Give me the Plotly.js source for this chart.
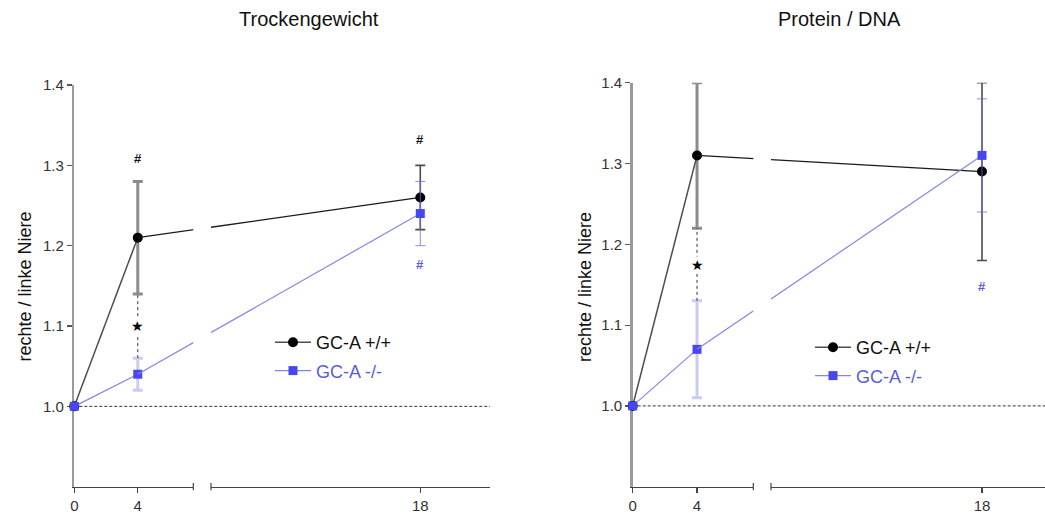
<!DOCTYPE html>
<html>
<head>
<meta charset="utf-8">
<script src="https://cdn.plot.ly/plotly-3.0.1.min.js"></script>
<style>html,body{margin:0;padding:0;background:#fff}#chart{width:1045px;height:513px}</style>
</head>
<body>
<div id="chart"></div>
<script>
// ---- data ----
const days = [0, 4, 18];
const tickDaysLeft = [0, 4];
const tickDaysRight = [18];
const yTicks = [1.0, 1.1, 1.2, 1.3, 1.4];

// Trockengewicht (rechte / linke Niere)
const tgWT = [1.00, 1.21, 1.26];
const tgWTsd = [0, 0.07, 0.04];
const tgKO = [1.00, 1.04, 1.24];
const tgKOsd = [0, 0.02, 0.04];
const tgHashDays = [4, 18, 18];
const tgHashY = [1.308, 1.332, 1.177];
const tgHashGroup = ['wt', 'wt', 'ko'];

// Protein / DNA
const pdWT = [1.00, 1.31, 1.29];
const pdWTsd = [0, 0.09, 0.11];
const pdKO = [1.00, 1.07, 1.31];
const pdKOsd = [0, 0.06, 0.07];
const pdHashDays = [4, 18, 18];
const pdHashY = [1.439, 1.434, 1.148];
const pdHashGroup = ['wt', 'wt', 'ko'];

const starDay = 4;
const nameWT = 'GC-A +/+';
const nameKO = 'GC-A -/-';
const titles = ['Trockengewicht', 'Protein / DNA'];
const yLabel = 'rechte / linke Niere';

// ---- styling ----
const W = 1045, H = 513;
const px = v => v / W;
const py = v => 1 - v / H;
const FONT = 'Arial, "Liberation Sans", sans-serif';
const BLUE = '#4747ee';
const BLUE_LINE = '#8585e6';
const BLUE_TEXT = '#5c5cd8';
const nan = v => (v > 0 ? v : NaN);

const traces = [];
function panel(ax, wt, wtsd, ko, kosd, legendId) {
  // WT
  traces.push({x: days.slice(0, 2), y: wt.slice(0, 2), xaxis: ax.a, yaxis: ax.y, mode: 'lines+markers',
    name: nameWT, legend: legendId, legendgroup: legendId + 'wt',
    line: {color: '#4d4d4d', width: 1.5}, marker: {symbol: 'circle', size: 10, color: '#000'},
    error_y: {type: 'data', array: wtsd.slice(0, 2).map(nan), color: '#8c8c8c', thickness: 3, width: 5},
    cliponaxis: false, hoverinfo: 'skip'});
  traces.push({x: days.slice(1), y: wt.slice(1), xaxis: ax.c, yaxis: ax.y, mode: 'lines',
    line: {color: '#1a1a1a', width: 1.3}, showlegend: false, hoverinfo: 'skip'});
  traces.push({x: days.slice(1), y: wt.slice(1), xaxis: ax.b, yaxis: ax.y, mode: 'lines',
    line: {color: '#1a1a1a', width: 1.3}, showlegend: false, hoverinfo: 'skip'});
  traces.push({x: days.slice(2), y: wt.slice(2), xaxis: ax.b, yaxis: ax.y, mode: 'markers',
    marker: {symbol: 'circle', size: 10, color: '#000'},
    error_y: {type: 'data', array: wtsd.slice(2), color: '#4a4a4a', thickness: 1.6, width: 5},
    showlegend: false, cliponaxis: false, hoverinfo: 'skip'});
  // KO
  traces.push({x: days.slice(0, 2), y: ko.slice(0, 2), xaxis: ax.a, yaxis: ax.y, mode: 'lines+markers',
    name: '<span style="color:' + BLUE_TEXT + '">' + nameKO + '</span>', legend: legendId, legendgroup: legendId + 'ko',
    line: {color: BLUE_LINE, width: 1.2}, marker: {symbol: 'square', size: 9, color: BLUE},
    error_y: {type: 'data', array: kosd.slice(0, 2).map(nan), color: 'rgba(170,170,235,0.6)', thickness: 3, width: 5},
    cliponaxis: false, hoverinfo: 'skip'});
  traces.push({x: days.slice(1), y: ko.slice(1), xaxis: ax.c, yaxis: ax.y, mode: 'lines',
    line: {color: BLUE_LINE, width: 1.2}, showlegend: false, hoverinfo: 'skip'});
  traces.push({x: days.slice(1), y: ko.slice(1), xaxis: ax.b, yaxis: ax.y, mode: 'lines',
    line: {color: BLUE_LINE, width: 1.2}, showlegend: false, hoverinfo: 'skip'});
  traces.push({x: days.slice(2), y: ko.slice(2), xaxis: ax.b, yaxis: ax.y, mode: 'markers',
    marker: {symbol: 'square', size: 9, color: BLUE},
    error_y: {type: 'data', array: kosd.slice(2), color: 'rgba(110,110,230,0.8)', thickness: 1, width: 5},
    showlegend: false, cliponaxis: false, hoverinfo: 'skip'});
}
panel({a: 'x', b: 'x2', c: 'x3', y: 'y'}, tgWT, tgWTsd, tgKO, tgKOsd, 'legend');
panel({a: 'x4', b: 'x5', c: 'x6', y: 'y2'}, pdWT, pdWTsd, pdKO, pdKOsd, 'legend2');

const tickFont = {family: FONT, size: 15, color: '#333'};
function xAx(domain, range, anchor, tickvals) {
  return {domain: domain, range: range, anchor: anchor, tickvals: tickvals, ticktext: tickvals.map(String),
    showline: true, linecolor: '#444', linewidth: 1.2, ticks: 'outside', ticklen: 5, tickcolor: '#444',
    tickwidth: 1.2, showgrid: false, zeroline: false, tickfont: tickFont, layer: 'below traces', fixedrange: true};
}
function yAx(domain, anchor) {
  return {domain: domain, range: [0.9, 1.4], anchor: anchor, tickvals: yTicks, tickformat: '.1f',
    showline: true, linecolor: '#9a9a9a', linewidth: 2.5, ticks: 'outside', ticklen: 5, tickcolor: '#555',
    tickwidth: 1.2, showgrid: false, zeroline: false, tickfont: tickFont, layer: 'below traces', fixedrange: true};
}

const shapes = [];
const annotations = [];
function decorate(ax, xL, xR, wt, wtsd, ko, kosd, hashDays, hashY, hashGroup, titleText, titleX, labelX) {
  // reference line at 1.0
  shapes.push({type: 'line', xref: 'paper', yref: ax.y, x0: px(xL), x1: px(xR), y0: 1.0, y1: 1.0,
    line: {color: '#333', width: 1, dash: '3px,2px'}, layer: 'below'});
  // axis break marks
  shapes.push({type: 'line', xref: ax.a + ' domain', yref: ax.y + ' domain', x0: 1, x1: 1, y0: -0.009, y1: 0.009,
    line: {color: '#444', width: 1.2}});
  shapes.push({type: 'line', xref: ax.b + ' domain', yref: ax.y + ' domain', x0: 0, x1: 0, y0: -0.009, y1: 0.009,
    line: {color: '#444', width: 1.2}});
  // significance bracket at day 4
  const i = days.indexOf(starDay);
  const top = wt[i] - wtsd[i], bot = ko[i] + kosd[i];
  shapes.push({type: 'line', xref: ax.a, yref: ax.y, x0: starDay, x1: starDay, y0: bot, y1: top,
    line: {color: '#333', width: 1, dash: 'dot'}});
  annotations.push({xref: ax.a, yref: ax.y, x: starDay, y: (top + bot) / 2, text: '★', showarrow: false,
    font: {family: '"DejaVu Sans", sans-serif', size: 14, color: '#000'}, bgcolor: '#fff', borderpad: 0});
  hashDays.forEach((d, k) => {
    annotations.push({xref: d === 18 ? ax.b : ax.a, yref: ax.y, x: d, y: hashY[k], text: '<b>#</b>', showarrow: false,
      font: {family: FONT, size: 13, color: hashGroup[k] === 'wt' ? '#111' : '#5a5ae0'}});
  });
  annotations.push({xref: 'paper', yref: 'paper', x: px(titleX), y: py(19), text: titleText, showarrow: false,
    xanchor: 'center', yanchor: 'middle', font: {family: FONT, size: 20, color: '#111'}});
  annotations.push({xref: 'paper', yref: 'paper', x: px(labelX), y: py(287), text: yLabel, showarrow: false,
    textangle: -90, xanchor: 'center', yanchor: 'middle', font: {family: FONT, size: 18, color: '#111'}});
}
decorate({a: 'x', b: 'x2', y: 'y'}, 74.3, 490, tgWT, tgWTsd, tgKO, tgKOsd, tgHashDays, tgHashY, tgHashGroup, titles[0], 309, 24.5);
decorate({a: 'x4', b: 'x5', y: 'y2'}, 632.7, 1045, pdWT, pdWTsd, pdKO, pdKOsd, pdHashDays, pdHashY, pdHashGroup, titles[1], 839, 585);

const legendBase = {orientation: 'v', xanchor: 'left', yanchor: 'top', bgcolor: 'rgba(0,0,0,0)',
  font: {family: FONT, size: 18, color: '#111'}, traceorder: 'grouped', tracegroupgap: 2, itemwidth: 36};

const layout = {
  width: W, height: H, margin: {l: 0, r: 0, t: 0, b: 0},
  paper_bgcolor: '#fff', plot_bgcolor: 'rgba(0,0,0,0)', font: {family: FONT},
  showlegend: true,
  xaxis: xAx([px(74.3), px(193.3)], [0, 7.5], 'y', tickDaysLeft),
  xaxis2: xAx([px(211), px(490)], [7.6315, 21.453], 'y', tickDaysRight),
  xaxis3: {overlaying: 'x', anchor: 'y', range: [0.8592, 6.7544], visible: false, fixedrange: true},
  yaxis: yAx([py(486.7), py(85)], 'x'),
  xaxis4: xAx([px(632.7), px(753.3)], [0, 7.5], 'y2', tickDaysLeft),
  xaxis5: xAx([px(771), 1], [7.635, 21.095], 'y2', tickDaysRight),
  xaxis6: {overlaying: 'x4', anchor: 'y2', range: [0.8414, 6.7657], visible: false, fixedrange: true},
  yaxis2: yAx([py(486.7), py(82.7)], 'x4'),
  legend: Object.assign({}, legendBase, {x: px(270), y: py(324)}),
  legend2: Object.assign({}, legendBase, {x: px(810), y: py(329)}),
  shapes: shapes,
  annotations: annotations
};

Plotly.newPlot('chart', traces, layout, {staticPlot: true, displayModeBar: false});
</script>
</body>
</html>
